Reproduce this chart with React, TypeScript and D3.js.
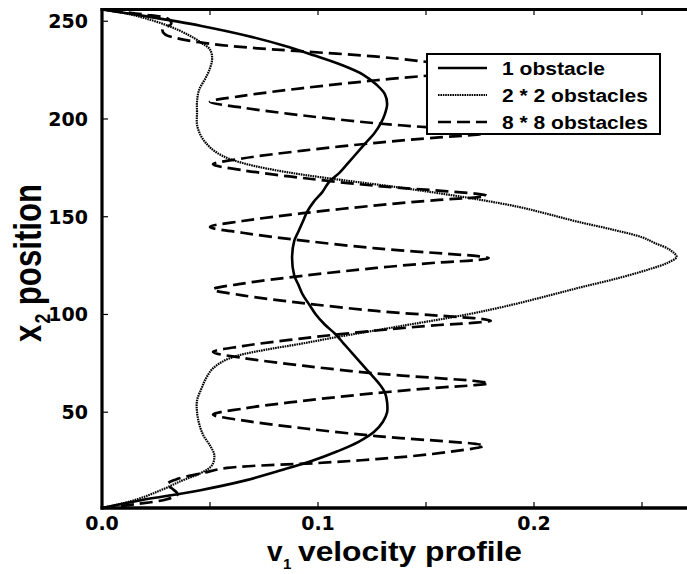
import React from 'react';
import * as d3 from 'd3';

// velocity profiles v1 as a function of x2 position
const solidY = [1, 5, 10, 15, 20, 25, 30, 35, 40, 45, 50, 55, 60, 65, 70, 75, 80, 85, 90, 95, 100, 105, 110, 115, 120, 128.8,
  137.6, 142.6, 147.6, 152.6, 157.6, 162.6, 167.6, 172.6, 177.6, 182.6, 187.6, 192.6, 197.6, 202.6, 207.6, 212.6, 217.6,
  222.6, 227.6, 232.6, 237.6, 242.6, 247.6, 252.6, 256];
const solidV = [0, 0.018, 0.045, 0.066, 0.082, 0.097, 0.109, 0.119, 0.126, 0.130, 0.132, 0.132, 0.131, 0.128, 0.124, 0.120,
  0.116, 0.112, 0.108, 0.103, 0.099, 0.096, 0.093, 0.091, 0.089, 0.088,
  0.089, 0.091, 0.093, 0.095, 0.098, 0.102, 0.105, 0.110, 0.114, 0.118, 0.122, 0.126, 0.129, 0.131, 0.132, 0.131, 0.127,
  0.121, 0.111, 0.098, 0.084, 0.067, 0.046, 0.020, 0];

const dottedY = [1, 5, 10, 15, 19, 23, 28, 33, 38, 44, 50, 56, 62, 67, 72, 76, 79, 82, 85, 88.5, 94, 100, 105, 110, 114, 118,
  123, 126.5, 129.5, 133, 136.5, 139.5, 143.5, 147.5, 151.5, 155, 158.5, 162, 165.5, 168.5, 171.5, 174.5, 177.5, 181, 185.5,
  191, 197, 203, 209, 215, 221, 226, 231, 235.5, 239, 243, 247.5, 251.5, 254, 256];
const dottedV = [0, 0.015, 0.027, 0.037, 0.046, 0.051, 0.052, 0.050, 0.047, 0.045, 0.044, 0.044, 0.046, 0.048, 0.051, 0.056,
  0.063, 0.076, 0.092, 0.109, 0.138, 0.169, 0.190, 0.208, 0.222, 0.237, 0.253, 0.262, 0.266, 0.263, 0.256, 0.250, 0.236,
  0.220, 0.206, 0.193, 0.176, 0.156, 0.134, 0.113, 0.093, 0.077, 0.065, 0.056, 0.050, 0.046, 0.044, 0.044, 0.044, 0.045,
  0.048, 0.050, 0.051, 0.050, 0.046, 0.040, 0.031, 0.020, 0.011, 0];

const dashedY = [1, 3, 5.5, 8, 10.5, 13, 15.5, 19, 21.5, 24, 26, 28.5, 30.8, 31.8,
  32.8, 33.8, 35, 37.8, 41.8, 45.8, 48.8, 51.8, 55.8, 59.8, 62.6, 63.8,
  64.8, 65.8, 67, 69.8, 73.8, 77.8, 80.8, 83.8, 87.8, 91.8, 94.6, 95.8,
  96.8, 97.8, 99, 101.8, 105.8, 109.8, 112.8, 115.8, 119.8, 123.8, 126.6, 127.8,
  128.8, 129.8, 131, 133.8, 137.8, 141.8, 144.8, 147.8, 151.8, 155.8, 158.6, 159.8,
  160.8, 161.8, 163, 165.8, 169.8, 173.8, 176.8, 179.8, 183.8, 187.8, 190.6, 191.8,
  192.8, 193.8, 195, 197.8, 201.8, 205.8, 208.8, 211.8, 215.8, 219.8, 222.6, 223.8,
  224.8, 225.8, 227, 229.5, 232, 234.5, 236.5, 238.5, 241, 243.5, 246, 248.5, 251, 253.5, 256];
const dashedV = [0, 0.016, 0.030, 0.035, 0.033, 0.030, 0.034, 0.047, 0.058, 0.100, 0.127, 0.152, 0.168, 0.174,
  0.177, 0.173, 0.160, 0.127, 0.093, 0.065, 0.0514, 0.065, 0.093, 0.127, 0.156, 0.172,
  0.179, 0.174, 0.161, 0.127, 0.093, 0.065, 0.0514, 0.065, 0.093, 0.127, 0.156, 0.173,
  0.180, 0.175, 0.161, 0.127, 0.093, 0.065, 0.0514, 0.065, 0.093, 0.127, 0.156, 0.173,
  0.179, 0.174, 0.160, 0.127, 0.093, 0.065, 0.050, 0.065, 0.093, 0.127, 0.156, 0.172,
  0.178, 0.173, 0.160, 0.127, 0.093, 0.065, 0.0514, 0.065, 0.093, 0.127, 0.156, 0.172,
  0.178, 0.173, 0.160, 0.127, 0.093, 0.065, 0.050, 0.065, 0.093, 0.127, 0.156, 0.172,
  0.178, 0.174, 0.164, 0.148, 0.126, 0.094, 0.068, 0.050, 0.036, 0.029, 0.028, 0.032, 0.031, 0.019, 0];

const legendLabels = ['1 obstacle', '2 * 2 obstacles', '8 * 8 obstacles'];
const xTickValues = [0.05, 0.1, 0.15, 0.2, 0.25];
const xTickLabels = [0, 0.1, 0.2];
const yTickLabels = [50, 100, 150, 200, 250];

const W = 687;
const H = 574;

const styles = [
  { dash: undefined, width: 2.6 },
  { dash: '1.6,0.8', width: 2.2 },
  { dash: '13,6', width: 2.7 },
];

export default function App() {
  const x = d3.scaleLinear().domain([0, 0.275]).range([102, 696]);
  const y = d3.scaleLinear().domain([1, 256]).range([508, 9.5]);

  const line = d3.line<[number, number]>()
    .x(d => x(d[1]))
    .y(d => y(d[0]))
    .curve(d3.curveCatmullRom.alpha(0.5));

  const series = [
    d3.zip(solidY, solidV) as [number, number][],
    d3.zip(dottedY, dottedV) as [number, number][],
    d3.zip(dashedY, dashedV) as [number, number][],
  ];

  const fmt = d3.format('.1f');
  const tickFont = "'DejaVu Sans', sans-serif";
  const titleFont = "'Liberation Sans', Arial, sans-serif";

  const lg = { x: 427, y: 54, w: 233, h: 80 };
  const legendRows = [68, 95, 122];
  const legendWidths = [103, 146, 146];

  return (
    <svg width={W} height={H} style={{ position: 'absolute', left: 0, top: 0, background: '#fff' }}>
      <rect width={W} height={H} fill="#fff" />
      {series.map((s, i) => (
        <path key={i} d={line(s) || ''} fill="none" stroke="#000"
          strokeWidth={styles[i].width} strokeDasharray={styles[i].dash} />
      ))}

      {/* legend */}
      <rect x={lg.x} y={lg.y} width={lg.w} height={lg.h} fill="#fff" stroke="#000" strokeWidth={2} />
      {legendLabels.map((t, i) => (
        <g key={t}>
          <line x1={438} x2={487} y1={legendRows[i]} y2={legendRows[i]} stroke="#000"
            strokeWidth={styles[i].width} strokeDasharray={styles[i].dash} />
          <text x={502} y={legendRows[i] + 6.5} fontFamily={titleFont} fontWeight="bold" fontSize={18}
            textLength={legendWidths[i]} lengthAdjust="spacingAndGlyphs">{t}</text>
        </g>
      ))}

      {/* frame */}
      <g stroke="#000" fill="none">
        <line x1={100.5} x2={W} y1={9.5} y2={9.5} strokeWidth={3} />
        <line x1={102} x2={102} y1={8} y2={509.5} strokeWidth={3.2} />
        <line x1={100.5} x2={W} y1={508} y2={508} strokeWidth={3.5} />
        {xTickValues.map(v => (
          <g key={v}>
            <line x1={x(v)} x2={x(v)} y1={508} y2={502} strokeWidth={1.2} />
            <line x1={x(v)} x2={x(v)} y1={9.5} y2={15} strokeWidth={1.2} />
          </g>
        ))}
        {yTickLabels.map(v => (
          <line key={v} x1={102} x2={108} y1={y(v)} y2={y(v)} strokeWidth={1.2} />
        ))}
      </g>

      {/* tick labels */}
      {xTickLabels.map(v => (
        <text key={v} x={x(v)} y={530} textAnchor="middle" fontFamily={tickFont} fontWeight="bold" fontSize={19}>
          {fmt(v)}
        </text>
      ))}
      {yTickLabels.map(v => (
        <text key={v} x={88} y={y(v) + 7} textAnchor="end" fontFamily={tickFont} fontWeight="bold" fontSize={19}>
          {v}
        </text>
      ))}

      {/* axis titles */}
      <text x={267} y={561} fontFamily={titleFont} fontWeight="bold" fontSize={28}>v</text>
      <text x={283} y={569} fontFamily={titleFont} fontWeight="bold" fontSize={15}>1</text>
      <text x={298} y={561} fontFamily={titleFont} fontWeight="bold" fontSize={28}
        textLength={224} lengthAdjust="spacingAndGlyphs">velocity profile</text>

      <g transform="translate(41,342) rotate(-90) scale(0.8,1)" fontFamily={titleFont} fontWeight="bold">
        <text x={0} y={0} fontSize={39}>x</text>
        <text x={23} y={9} fontSize={22}>2</text>
        <text x={46} y={0} fontSize={39}>position</text>
      </g>
    </svg>
  );
}
